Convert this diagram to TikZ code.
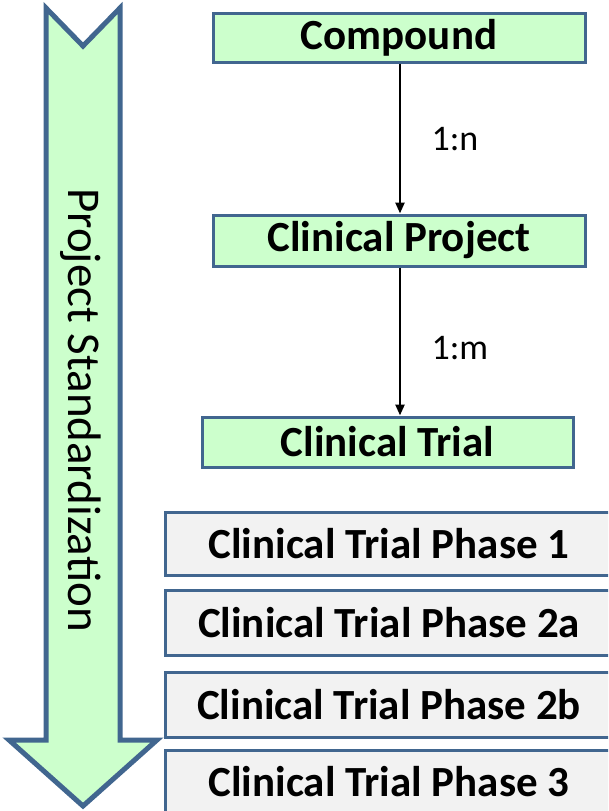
\documentclass[tikz,border=0pt]{standalone}
\usepackage{fontspec}
\setmainfont{Carlito}
\usetikzlibrary{arrows.meta}
\definecolor{edgeblue}{HTML}{41668F}
\definecolor{mint}{HTML}{CCFFCC}
\definecolor{paper}{HTML}{F2F2F2}
\begin{document}
\begin{tikzpicture}[x=1pt,y=-1pt,
  entity/.style={draw=edgeblue,line width=3pt,fill=mint,minimum height=49pt,
    inner sep=0pt,font=\fontsize{43}{43}\selectfont\bfseries},
  phasebox/.style={draw=edgeblue,line width=3pt,fill=paper,minimum height=63pt,
    minimum width=448pt,inner sep=0pt,font=\fontsize{43}{43}\selectfont\bfseries},
  link/.style={line width=2.4pt,-{Triangle[length=11pt,width=9pt]}},
  cardinal/.style={font=\fontsize{36}{36}\selectfont,anchor=west}]
\useasboundingbox (0,0) rectangle (608,811);
\begin{scope}
\clip (0,0) rectangle (608,811);
% big downward arrow
\draw[edgeblue,line width=5pt,fill=mint,line join=miter]
  (46,8) -- (83,46) -- (120,8) -- (120,740) -- (157,740) -- (83,806)
  -- (9,740) -- (46,740) -- cycle;
\node[rotate=-90,font=\fontsize{47}{47}\selectfont] (std) at (81,410)
  {Project Standardization};
% entity chain
\node[entity,minimum width=372pt] (cmp) at (399,37.5) {Compound};
\node[entity,minimum width=372pt,minimum height=51pt] (prj) at (399,240.5) {Clinical Project};
\node[entity,minimum width=371pt,minimum height=50pt] (tri) at (387.5,442) {Clinical Trial};
\draw[link] (cmp.south -| 400,0) -- (prj.north -| 400,0);
\draw[link] (prj.south -| 400,0) -- (tri.north -| 400,0);
\node[cardinal] (l1) at (428,139) {1:n};
\node[cardinal] (l2) at (428,348) {1:m};
% trial phases
\node[phasebox] (p1) at (389,543.5) {Clinical Trial Phase 1};
\node[phasebox,minimum height=65pt] (p2a) at (389,622.5) {Clinical Trial Phase 2a};
\node[phasebox,minimum height=65pt] (p2b) at (389,704.5) {Clinical Trial Phase 2b};
\node[phasebox] (p3) at (389,781.5) {Clinical Trial Phase 3};
\end{scope}
\end{tikzpicture}
\end{document}
